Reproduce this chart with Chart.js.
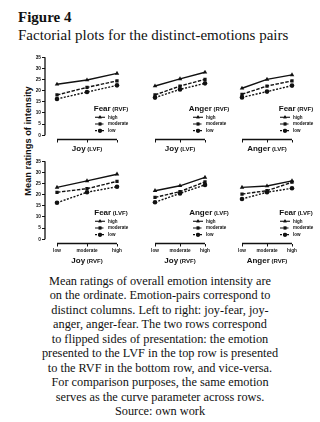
<!DOCTYPE html>
<html>
<head>
<meta charset="utf-8">
<title>Figure 4</title>
<script src="https://cdn.jsdelivr.net/npm/chart.js"></script>
<style>
  body { margin: 0; background: #fff; }
  #page { position: relative; width: 320px; height: 422px; overflow: hidden; color: #111; }
  .serif { font-family: "Liberation Serif", "Times New Roman", serif; position: absolute; white-space: nowrap; }
  #fig { left: 18px; top: 10px; font-size: 15px; line-height: 15px; font-weight: bold; }
  #sub { left: 18px; top: 28px; font-size: 15px; line-height: 15px; }
  #caption { left: 0; top: 274px; width: 320px; text-align: center; font-size: 12.3px; line-height: 14.45px; }
  #ytitle { position: absolute; left: 27.5px; top: 141px; transform: translate(-50%, -50%) rotate(-90deg);
            font: bold 9.3px "Liberation Sans", Arial, sans-serif; line-height: 10px; white-space: nowrap; }
  canvas { position: absolute; }
</style>
</head>
<body>
<div id="page">
  <div id="fig" class="serif">Figure 4</div>
  <div id="sub" class="serif">Factorial plots for the distinct-emotions pairs</div>
  <div id="ytitle">Mean ratings of intensity</div>
  <div id="caption" class="serif">Mean ratings of overall emotion intensity are<br>on the ordinate. Emotion-pairs correspond to<br>distinct columns. Left to right: joy-fear, joy-<br>anger, anger-fear. The two rows correspond<br>to flipped sides of presentation: the emotion<br>presented to the LVF in the top row is presented<br>to the RVF in the bottom row, and vice-versa.<br>For comparison purposes, the same emotion<br>serves as the curve parameter across rows.<br>Source: own work</div>
</div>
<script>
// data
const levels = ['low', 'moderate', 'high'];
const seriesNames = ['high', 'moderate', 'low'];
const yTicks = [0, 5, 10, 15, 20, 25, 30, 35];

const xEmotions = ['Joy', 'Joy', 'Anger'];
const paramEmotions = ['Fear', 'Anger', 'Fear'];

// top row: x emotion in LVF, parameter in RVF
const topHigh = [[22.9, 24.8, 27.8], [22.1, 25.3, 28.3], [21.1, 25.1, 27.1]];
const topModerate = [[18.1, 21.5, 24.4], [18.1, 22.1, 25.1], [18.4, 22.1, 24.4]];
const topLow = [[16.3, 19.4, 22.4], [16.9, 20.6, 23.3], [17.0, 19.6, 22.3]];

// bottom row: x emotion in RVF, parameter in LVF
const bottomHigh = [[23.3, 26.2, 29.2], [21.8, 24.0, 27.8], [23.3, 23.9, 26.2]];
const bottomModerate = [[21.1, 22.7, 26.0], [18.8, 21.4, 25.8], [20.3, 21.8, 25.6]];
const bottomLow = [[16.4, 21.1, 23.6], [16.6, 20.6, 24.4], [18.1, 21.1, 22.9]];

const ink = '#111';
const sans = '"Liberation Sans", Arial, sans-serif';
const pointStyles = ['triangle', 'rect', 'circle'];
const dashes = [[], [3.5, 1.5], [2, 1.5]];

function drawMixed(ctx, parts, x, y, align) {
  let total = 0;
  parts.forEach(p => { ctx.font = p[1]; total += ctx.measureText(p[0]).width; });
  let cx = align === 'center' ? x - total / 2 : x;
  ctx.textBaseline = 'alphabetic';
  ctx.textAlign = 'left';
  parts.forEach(p => {
    ctx.font = p[1];
    ctx.fillText(p[0], cx, y);
    cx += ctx.measureText(p[0]).width;
  });
}

// axes drawn prism-style (separated), plus titles and legend
const prismPlugin = {
  id: 'prism',
  afterDraw(chart, args, opts) {
    const ctx = chart.ctx;
    const xs = chart.scales.x, ys = chart.scales.y;
    const area = chart.chartArea;
    ctx.save();
    ctx.strokeStyle = ink;
    ctx.fillStyle = ink;
    ctx.lineWidth = 1.3;
    ctx.setLineDash([]);
    ctx.beginPath();
    ctx.moveTo(xs.getPixelForValue(0), area.bottom);
    ctx.lineTo(xs.getPixelForValue(levels.length - 1), area.bottom);
    if (opts.yAxis) {
      ctx.moveTo(area.left, ys.getPixelForValue(yTicks[0]));
      ctx.lineTo(area.left, ys.getPixelForValue(yTicks[yTicks.length - 1]));
    }
    ctx.stroke();

    // x title
    drawMixed(ctx, [[opts.xName, 'bold 8px ' + sans], [' (' + opts.xSide + ')', 'bold 6px ' + sans]],
      xs.getPixelForValue(1), area.bottom + opts.titleOffset, 'center');

    // legend
    const x0 = xs.getPixelForValue(0);
    const y0 = ys.getPixelForValue(0);
    drawMixed(ctx, [[opts.legendName, 'bold 8px ' + sans], [' (' + opts.legendSide + ')', 'bold 6px ' + sans]],
      x0 + 54, y0 - 24.5, 'center');
    const rows = [-18, -11.3, -4.6];
    chart.data.datasets.forEach((ds, i) => {
      const ry = y0 + rows[i];
      ctx.setLineDash(ds.borderDash);
      ctx.lineWidth = 1.1;
      ctx.beginPath();
      ctx.moveTo(x0 + 38, ry);
      ctx.lineTo(x0 + 48, ry);
      ctx.stroke();
      ctx.setLineDash([]);
      Chart.helpers.drawPoint(ctx, { pointStyle: ds.pointStyle, radius: 2, rotation: 0, borderWidth: 0 }, x0 + 43, ry);
      ctx.fill();
      ctx.font = 'bold 4.5px ' + sans;
      ctx.textBaseline = 'middle';
      ctx.textAlign = 'left';
      ctx.fillText(ds.label, x0 + 51, ry);
    });
    ctx.restore();
  }
};

const areaLefts = [45, 131, 218];

function makePanel(row, col) {
  const high = row === 0 ? topHigh : bottomHigh;
  const moderate = row === 0 ? topModerate : bottomModerate;
  const low = row === 0 ? topLow : bottomLow;
  const series = [high[col], moderate[col], low[col]];

  const canvas = document.createElement('canvas');
  const top = row === 0 ? 50 : 154;
  const height = row === 0 ? 106 : 114;
  const xHeight = row === 0 ? 16.5 : 24.5;
  canvas.width = 114;
  canvas.height = height;
  canvas.style.left = (areaLefts[col] - 16) + 'px';
  canvas.style.top = top + 'px';
  document.getElementById('page').appendChild(canvas);

  const showY = col === 0;

  new Chart(canvas, {
    type: 'line',
    data: {
      datasets: seriesNames.map((name, i) => ({
        label: name,
        data: series[i].map((v, j) => ({ x: j, y: v })),
        borderColor: ink,
        backgroundColor: ink,
        borderWidth: 1.4,
        borderDash: dashes[i],
        pointStyle: pointStyles[i],
        pointRadius: i === 0 ? 2.6 : 2.3,
        pointBorderWidth: 0,
        fill: false,
        tension: 0
      }))
    },
    options: {
      responsive: false,
      animation: false,
      devicePixelRatio: 1,
      events: [],
      layout: { padding: { left: showY ? 2 : 16, top: 7.3, right: 14, bottom: 0 } },
      plugins: {
        legend: { display: false },
        tooltip: { enabled: false },
        prism: {
          yAxis: showY,
          xName: xEmotions[col],
          xSide: row === 0 ? 'LVF' : 'RVF',
          legendName: paramEmotions[col],
          legendSide: row === 0 ? 'RVF' : 'LVF',
          titleOffset: row === 0 ? 11.5 : 19.5
        }
      },
      scales: {
        x: {
          type: 'linear',
          min: -0.4,
          max: 2.4,
          afterBuildTicks: s => { s.ticks = levels.map((_, i) => ({ value: i })); },
          afterFit: s => { s.height = xHeight; },
          border: { display: false },
          grid: { drawOnChartArea: false, drawTicks: true, tickLength: 3, color: ink, lineWidth: 1 },
          ticks: {
            display: row === 1,
            padding: 1.5,
            maxRotation: 0,
            autoSkip: false,
            color: ink,
            font: { family: sans, size: 4.7, weight: 'bold' },
            callback: v => levels[v]
          }
        },
        y: {
          display: showY,
          min: -1.9,
          max: 35,
          afterBuildTicks: s => { s.ticks = yTicks.map(v => ({ value: v })); },
          afterFit: s => { s.width = 14; },
          border: { display: false },
          grid: { drawOnChartArea: false, drawTicks: true, tickLength: 3, color: ink, lineWidth: 1 },
          ticks: {
            padding: 1,
            color: ink,
            font: { family: sans, size: 4.8, weight: 'bold' }
          }
        }
      }
    },
    plugins: [prismPlugin]
  });
}

for (let r = 0; r < 2; r++) {
  for (let c = 0; c < 3; c++) makePanel(r, c);
}
</script>
</body>
</html>
